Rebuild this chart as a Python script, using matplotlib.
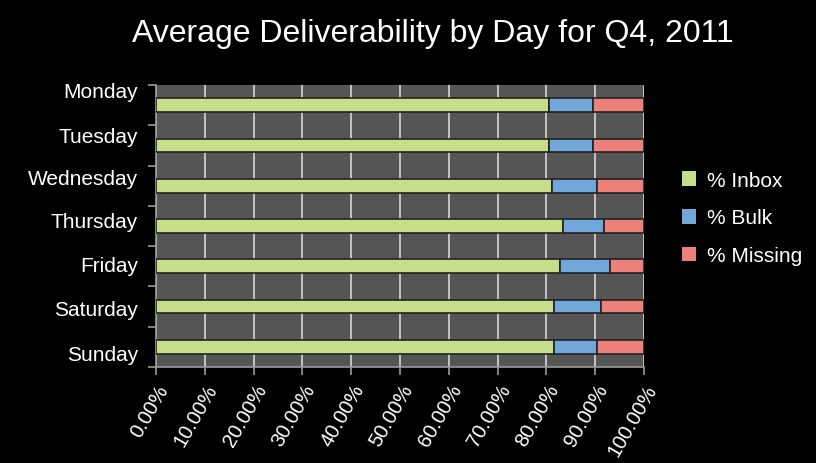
#!/usr/bin/env python3
"""Stacked horizontal bars: average deliverability split by weekday, Q4 2011."""
import matplotlib
matplotlib.use("Agg")
import matplotlib.pyplot as plt
from matplotlib.patches import Patch
from matplotlib.ticker import PercentFormatter

days = ["Monday", "Tuesday", "Wednesday", "Thursday", "Friday", "Saturday", "Sunday"]
inbox = [80.6, 80.6, 81.1, 83.5, 82.7, 81.6, 81.6]
bulk = [9.0, 9.0, 9.3, 8.4, 10.4, 9.6, 8.8]
missing = [round(100 - i - b, 1) for i, b in zip(inbox, bulk)]
series = ["% Inbox", "% Bulk", "% Missing"]
colors = ["#c6de89", "#72a7da", "#ee807c"]

plt.rcParams["font.family"] = ["Liberation Sans", "DejaVu Sans"]

fig = plt.figure(figsize=(8.16, 4.64), dpi=100, facecolor="black")
ax = fig.add_axes([156 / 816, 1 - 368 / 464, 488 / 816, 282 / 464])
ax.set_facecolor("#555555")

pos = [i + 0.5 for i in range(len(days))]
left = [0.0] * len(days)
for vals, col in zip((inbox, bulk, missing), colors):
    ax.barh(pos, vals, left=left, height=0.34, color=col,
            edgecolor="#222222", linewidth=1.2, zorder=3)
    left = [l + v for l, v in zip(left, vals)]

ax.set_xlim(0, 100)
ax.set_ylim(len(days), 0)
ax.set_xticks(range(0, 101, 10))
ax.xaxis.set_major_formatter(PercentFormatter(decimals=2))
ax.grid(axis="x", color="#cccccc", linewidth=1.3, zorder=1)

# band boundaries get the tick marks, day names sit a little off the bands
ax.set_yticks(range(len(days) + 1))
ax.set_yticklabels([])
label_pos = [0.12, 1.22, 2.28, 3.33, 4.44, 5.53, 6.63]
ax.set_yticks(label_pos, minor=True)
ax.set_yticklabels(days, minor=True)
ax.tick_params(axis="y", which="minor", length=0, pad=13,
               labelsize=15, labelcolor="white")
ax.tick_params(axis="y", which="major", length=6, color="#9a9a9a", width=1.2)
ax.tick_params(axis="x", length=6, color="#9a9a9a", width=1.2,
               labelsize=14.5, labelcolor="white", pad=4)
for lbl in ax.get_xticklabels():
    lbl.set_rotation(60)
    lbl.set_ha("right")
    lbl.set_rotation_mode("anchor")

for side in ("top", "right"):
    ax.spines[side].set_visible(False)
for side in ("left", "bottom"):
    ax.spines[side].set_color("#9a9a9a")
    ax.spines[side].set_linewidth(1.2)

fig.text(433 / 816, 1 - 34 / 464, "Average Deliverability by Day for Q4, 2011",
         color="white", fontsize=23, ha="center", va="center")

handles = [Patch(facecolor=c, edgecolor="none") for c in colors]
leg = fig.legend(handles, series, loc="center left",
                 bbox_to_anchor=(663 / 816, 1 - 219 / 464), frameon=False,
                 fontsize=15, labelcolor="white", handlelength=0.7,
                 handleheight=0.7, handletextpad=0.5, labelspacing=0.9)

fig.savefig("out.png", dpi=100, facecolor="black")
